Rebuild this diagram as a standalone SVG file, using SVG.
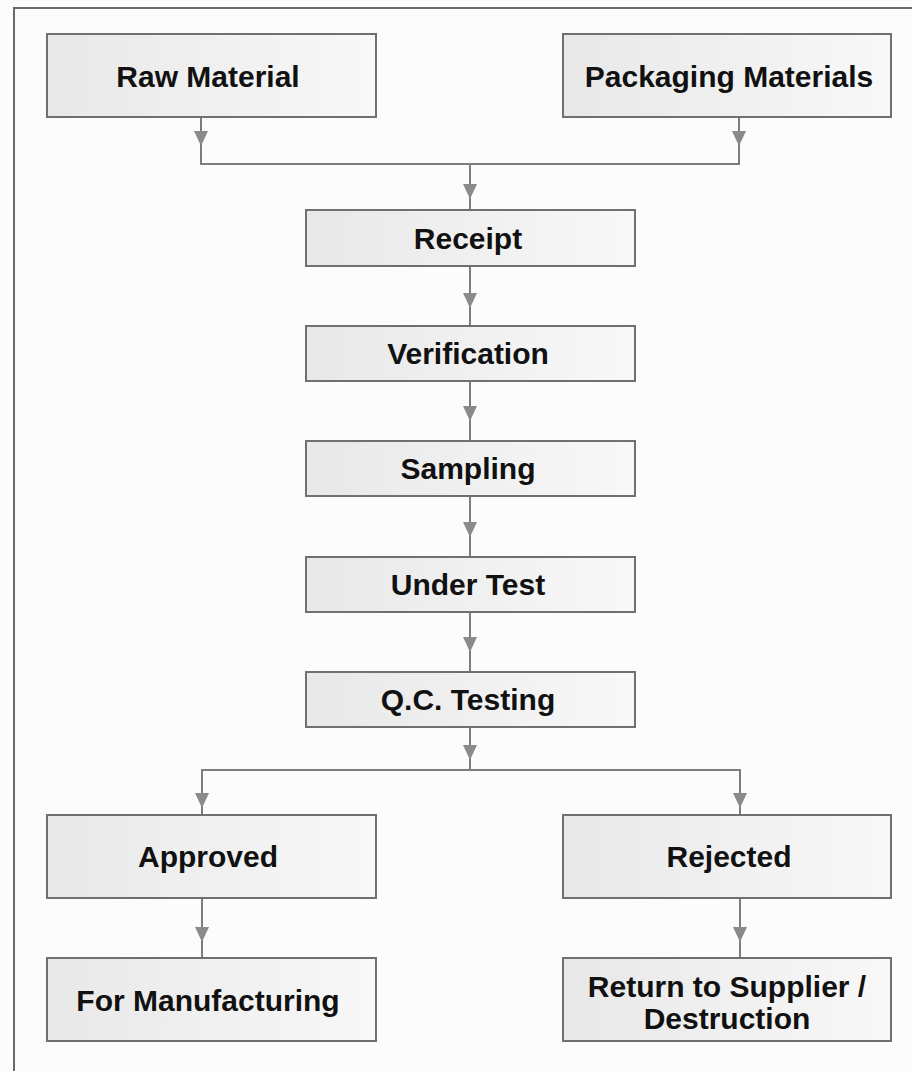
<svg xmlns="http://www.w3.org/2000/svg" width="912" height="1071" viewBox="0 0 912 1071">
<style>
.box{fill:url(#g);stroke:#707070;stroke-width:2}
.t{font-family:"Liberation Sans",Arial,sans-serif;font-weight:bold;font-size:30px;fill:#111;text-anchor:middle}
.c{fill:none;stroke:#7d7d7d;stroke-width:2}
.h{fill:#8a8a8a}
</style>
<defs>
<linearGradient id="g" x1="0" y1="0" x2="1" y2="0">
<stop offset="0" stop-color="#e8e8e8"/>
<stop offset="1" stop-color="#f8f8f8"/>
</linearGradient>
<path id="ah" d="M-7,-15 L7,-15 L0,0 Z"/>
</defs>
<rect width="912" height="1071" fill="#fcfcfc"/>
<path d="M14,1071 V8 H912" fill="none" stroke="#6a6a6a" stroke-width="2"/>
<g id="connectors">
<path class="c" d="M201,117 V164 H739 V117"/>
<path class="c" d="M470,164 V210"/>
<path class="c" d="M470,266 V326"/>
<path class="c" d="M470,381 V441"/>
<path class="c" d="M470,496 V557"/>
<path class="c" d="M470,612 V672"/>
<path class="c" d="M470,727 V770"/>
<path class="c" d="M202,815 V770 H740 V815"/>
<path class="c" d="M202,898 V958"/>
<path class="c" d="M740,898 V958"/>
<use href="#ah" class="h" x="201" y="146"/>
<use href="#ah" class="h" x="739" y="146"/>
<use href="#ah" class="h" x="470" y="199"/>
<use href="#ah" class="h" x="470" y="308"/>
<use href="#ah" class="h" x="470" y="421"/>
<use href="#ah" class="h" x="470" y="537"/>
<use href="#ah" class="h" x="470" y="652"/>
<use href="#ah" class="h" x="470" y="760"/>
<use href="#ah" class="h" x="202" y="808"/>
<use href="#ah" class="h" x="740" y="808"/>
<use href="#ah" class="h" x="202" y="942"/>
<use href="#ah" class="h" x="740" y="942"/>
</g>
<g id="raw"><rect class="box" x="47" y="34" width="329" height="83"/><text class="t" x="208" y="87">Raw Material</text></g>
<g id="packaging"><rect class="box" x="563" y="34" width="328" height="83"/><text class="t" x="729" y="87">Packaging Materials</text></g>
<g id="receipt"><rect class="box" x="306" y="210" width="329" height="56"/><text class="t" x="468" y="249">Receipt</text></g>
<g id="verification"><rect class="box" x="306" y="326" width="329" height="55"/><text class="t" x="468" y="364">Verification</text></g>
<g id="sampling"><rect class="box" x="306" y="441" width="329" height="55"/><text class="t" x="468" y="479">Sampling</text></g>
<g id="undertest"><rect class="box" x="306" y="557" width="329" height="55"/><text class="t" x="468" y="595">Under Test</text></g>
<g id="qctesting"><rect class="box" x="306" y="672" width="329" height="55"/><text class="t" x="468" y="710">Q.C. Testing</text></g>
<g id="approved"><rect class="box" x="47" y="815" width="329" height="83"/><text class="t" x="208" y="867">Approved</text></g>
<g id="rejected"><rect class="box" x="563" y="815" width="328" height="83"/><text class="t" x="729" y="867">Rejected</text></g>
<g id="manufacturing"><rect class="box" x="47" y="958" width="329" height="83"/><text class="t" x="208" y="1011">For Manufacturing</text></g>
<g id="return"><rect class="box" x="563" y="958" width="328" height="83"/><text class="t" x="727" y="997">Return to Supplier /</text><text class="t" x="727" y="1029">Destruction</text></g>
</svg>
